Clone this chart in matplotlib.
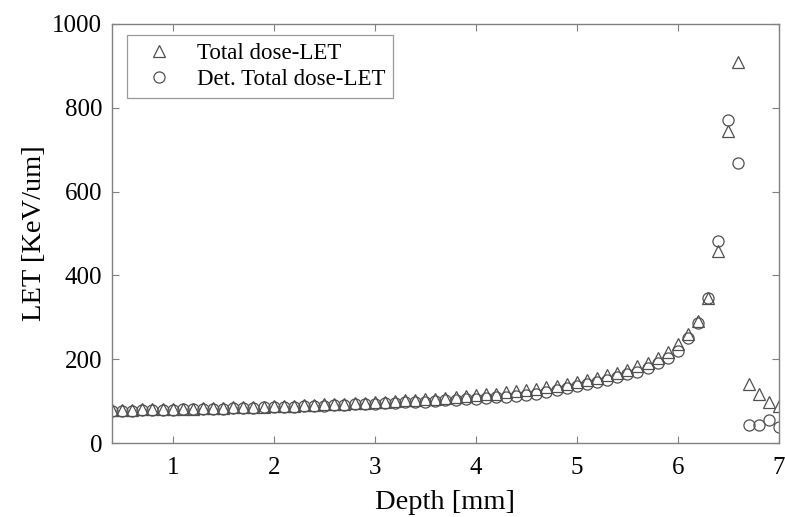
import matplotlib
matplotlib.use("Agg")
import matplotlib.pyplot as plt

plt.rcParams['font.family'] = ['Liberation Serif', 'DejaVu Serif']

# Depth grid (mm), 0.1 mm steps
depth = [round(0.4 + 0.1 * i, 1) for i in range(67)]

# Total dose-averaged LET (keV/um)
total_let = [78, 79, 79, 80, 80, 81, 81, 82, 82, 83,
             84, 84, 85, 86, 86, 87, 88, 88, 89, 90,
             91, 92, 93, 94, 95, 96, 98, 99, 100, 102,
             103, 105, 106, 108, 110, 112, 114, 116, 118, 121,
             123, 126, 129, 133, 137, 141, 146, 151, 156, 162,
             168, 175, 183, 192, 204, 218, 236, 260, 292, 345,
             458, 745, 910, 140, 116, 97, 88]

# Detector total dose-averaged LET (keV/um)
det_let = [76, 77, 77, 78, 78, 79, 79, 80, 80, 81,
           82, 82, 83, 84, 84, 85, 86, 86, 87, 88,
           89, 89, 90, 91, 92, 93, 94, 95, 96, 97,
           98, 99, 100, 102, 103, 104, 106, 107, 109, 111,
           113, 115, 118, 122, 126, 131, 136, 141, 146, 151,
           158, 165, 170, 180, 190, 204, 220, 250, 287, 345,
           482, 770, 668, 43, 43, 56, 38]

xticks = [1, 2, 3, 4, 5, 6, 7]
yticks = [0, 200, 400, 600, 800, 1000]

fig = plt.figure(figsize=(7.85, 5.17), dpi=100)
ax = fig.add_axes([0.1427, 0.1431, 0.8495, 0.8105])

edge = '#505050'
ax.plot(depth, total_let, linestyle='none', marker='^', markersize=9,
        markerfacecolor='none', markeredgecolor=edge, markeredgewidth=0.9,
        label='Total dose-LET')
ax.plot(depth, det_let, linestyle='none', marker='o', markersize=8,
        markerfacecolor='none', markeredgecolor=edge, markeredgewidth=0.9,
        label='Det. Total dose-LET')

ax.set_xlim(0.4, 7.0)
ax.set_ylim(0, 1000)
ax.set_xticks(xticks)
ax.set_yticks(yticks)
ax.tick_params(direction='in', length=5, width=0.8, color='#808080',
               top=True, right=True, labelsize=18)
ax.tick_params(axis='x', pad=10)
ax.tick_params(axis='y', pad=7)
for s in ax.spines.values():
    s.set_color('#808080')
    s.set_linewidth(1.0)

ax.set_xlabel('Depth [mm]', fontsize=20.5, labelpad=8)
ax.set_ylabel('LET [KeV/um]', fontsize=20.5, labelpad=4)

leg = ax.legend(loc='upper left', bbox_to_anchor=(0.022, 0.974),
                borderaxespad=0, fontsize=16.5,
                frameon=True, fancybox=False, edgecolor='#808080',
                handletextpad=0.6, borderpad=0.35, labelspacing=0.22,
                handlelength=2.1)
leg.get_frame().set_linewidth(0.9)

fig.savefig('out.png', dpi=100)
